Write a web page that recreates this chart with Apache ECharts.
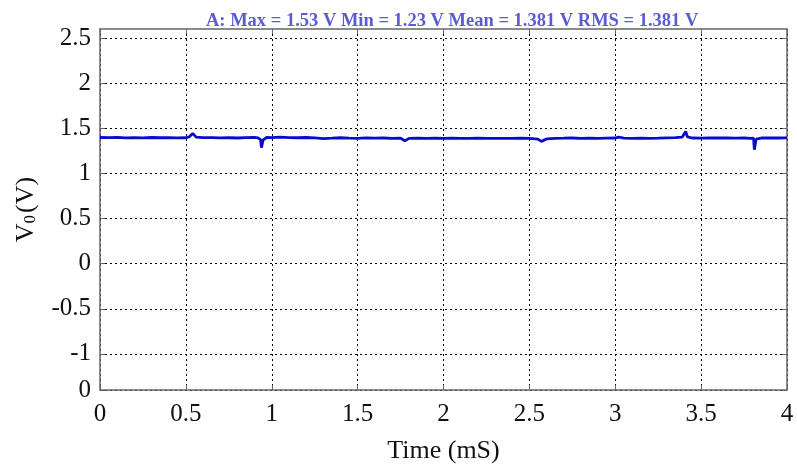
<!DOCTYPE html>
<html>
<head>
<meta charset="utf-8">
<script src="https://cdn.jsdelivr.net/npm/echarts@6/dist/echarts.min.js"></script>
<style>
  html, body { margin: 0; padding: 0; background: #fff; }
  #main { width: 797px; height: 466px; }
</style>
</head>
<body>
<div id="main"></div>
<script>
var myChart = echarts.init(document.getElementById('main'));

// time in mS
const time = [
  0, 0.05, 0.1, 0.15, 0.2, 0.25, 0.3, 0.35, 0.4, 0.45, 0.5, 0.52, 0.54, 0.56, 0.6,
  0.65, 0.7, 0.75, 0.8, 0.85, 0.9, 0.92, 0.935, 0.94, 0.95, 0.97, 1.0, 1.05, 1.1,
  1.15, 1.2, 1.25, 1.3, 1.35, 1.4, 1.45, 1.5, 1.55, 1.6, 1.65, 1.7, 1.75, 1.775,
  1.8, 1.85, 1.9, 1.95, 2.0, 2.05, 2.1, 2.15, 2.2, 2.25, 2.3, 2.35, 2.4, 2.45, 2.5,
  2.55, 2.57, 2.6, 2.65, 2.7, 2.75, 2.8, 2.85, 2.9, 2.95, 3.0, 3.02, 3.05, 3.1,
  3.15, 3.2, 3.25, 3.3, 3.35, 3.39, 3.41, 3.42, 3.45, 3.5, 3.55, 3.6, 3.65, 3.7,
  3.75, 3.79, 3.805, 3.81, 3.82, 3.85, 3.9, 3.95, 4.0
];
// V0 in volts
const volt = [
  1.398, 1.396, 1.399, 1.394, 1.397, 1.393, 1.398, 1.395, 1.396, 1.394, 1.395, 1.405, 1.442, 1.402, 1.396,
  1.397, 1.394, 1.395, 1.392, 1.396, 1.398, 1.394, 1.375, 1.285, 1.372, 1.398, 1.396, 1.401, 1.397,
  1.395, 1.398, 1.393, 1.386, 1.390, 1.395, 1.391, 1.389, 1.393, 1.390, 1.392, 1.388, 1.390, 1.362,
  1.388, 1.391, 1.389, 1.391, 1.389, 1.390, 1.387, 1.389, 1.391, 1.388, 1.389, 1.387, 1.389, 1.391, 1.388,
  1.380, 1.355, 1.382, 1.389, 1.390, 1.392, 1.389, 1.391, 1.388, 1.390, 1.392, 1.402, 1.390, 1.389,
  1.391, 1.388, 1.390, 1.394, 1.396, 1.402, 1.465, 1.405, 1.392, 1.391, 1.393, 1.392, 1.393, 1.391,
  1.392, 1.388, 1.392, 1.262, 1.380, 1.392, 1.393, 1.392, 1.393
];
const yTicks = [-1.4, -1, -0.5, 0, 0.5, 1, 1.5, 2, 2.5];

const data = time.map(function (t, i) { return [t, volt[i]]; });

const font = 'Liberation Serif';
const gridLine = { show: true, lineStyle: { color: '#000', type: [2, 3], width: 1 } };
const frame = { show: true, onZero: false, lineStyle: { color: '#666', width: 1.5 } };
const tick = { show: true, inside: true, length: 5, lineStyle: { color: '#666' } };

const option = {
  animation: false,
  backgroundColor: '#fff',
  title: {
    text: 'A: Max = 1.53 V Min = 1.23 V Mean = 1.381 V RMS = 1.381 V',
    left: 201,
    top: 7,
    textStyle: { fontFamily: font, fontSize: 18.5, fontWeight: 'bold', color: '#5b5bd6' }
  },
  grid: { left: 100, right: 10, top: 29, bottom: 76, outerBoundsMode: 'none', containLabel: false },
  xAxis: [
    {
      type: 'value', min: 0, max: 4, interval: 0.5,
      axisLine: frame,
      axisTick: tick,
      axisLabel: { fontFamily: font, fontSize: 25, color: '#111', margin: 12 },
      splitLine: gridLine,
      name: 'Time (mS)', nameLocation: 'middle', nameGap: 48,
      nameTextStyle: { fontFamily: font, fontSize: 26, color: '#111' }
    },
    {
      type: 'value', min: 0, max: 4, interval: 0.5, position: 'top',
      axisLine: frame,
      axisTick: tick,
      axisLabel: { show: false }, splitLine: { show: false }
    }
  ],
  yAxis: [
    {
      type: 'value', min: -1.4, max: 2.6,
      axisLine: frame,
      axisTick: Object.assign({ customValues: yTicks }, tick),
      axisLabel: {
        fontFamily: font, fontSize: 25, color: '#111', margin: 9,
        customValues: yTicks,
        formatter: function (v) { return Math.abs(v + 1.4) < 1e-9 ? '0' : String(v); }
      },
      splitLine: gridLine,
      name: '{a|V}{b|0}{a|(V)}', nameLocation: 'middle', nameGap: 61,
      nameTextStyle: {
        rich: {
          a: { fontFamily: font, fontSize: 26, color: '#111' },
          b: { fontFamily: font, fontSize: 17, color: '#111', padding: [9, 2, 0, 0] }
        }
      }
    },
    {
      type: 'value', min: -1.4, max: 2.6, position: 'right',
      axisLine: frame,
      axisTick: Object.assign({ customValues: yTicks }, tick),
      axisLabel: { show: false, customValues: yTicks }, splitLine: { show: false }
    }
  ],
  series: [
    {
      type: 'line',
      data: data,
      showSymbol: false,
      lineStyle: { color: '#0a0acc', width: 2.8 }
    }
  ]
};

myChart.setOption(option);
</script>
</body>
</html>
